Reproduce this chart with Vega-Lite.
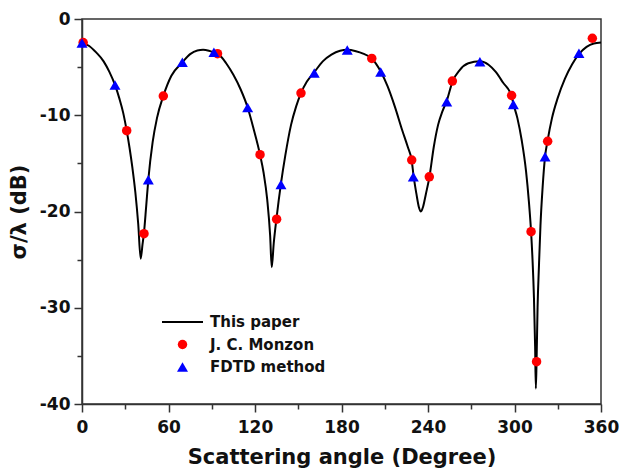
{
  "$schema": "https://vega.github.io/schema/vega-lite/v6.json",
  "width": 519,
  "height": 385,
  "autosize": "none",
  "padding": {"left": 82, "top": 19, "right": 21, "bottom": 68},
  "background": "white",
  "config": {
    "view": {"stroke": "#333", "strokeWidth": 1.5},
    "font": "DejaVu Sans",
    "axis": {
      "labelFont": "DejaVu Sans", "labelFontWeight": "bold", "labelFontSize": 17, "labelColor": "#111",
      "titleFont": "DejaVu Sans", "titleFontWeight": "bold", "titleColor": "#111",
      "domainColor": "#333", "domainWidth": 1.5, "tickColor": "#333", "tickWidth": 1.5, "grid": false
    }
  },
  "datasets": {
    "curve": [
      {"angle": 0, "db": -2.45}, {"angle": 5, "db": -2.8}, {"angle": 10, "db": -3.5}, {"angle": 15, "db": -4.4},
      {"angle": 19, "db": -5.5}, {"angle": 23, "db": -6.9}, {"angle": 26, "db": -8.3}, {"angle": 28.5, "db": -9.7},
      {"angle": 31, "db": -11.6}, {"angle": 33, "db": -13.4}, {"angle": 35, "db": -15.5}, {"angle": 37, "db": -18.0},
      {"angle": 39, "db": -21.3}, {"angle": 40.7, "db": -24.9}, {"angle": 42, "db": -23.4}, {"angle": 43, "db": -22.2},
      {"angle": 44.5, "db": -19.5}, {"angle": 46, "db": -16.7}, {"angle": 49, "db": -12.8}, {"angle": 52, "db": -10.3},
      {"angle": 56.4, "db": -8.0}, {"angle": 62, "db": -5.9}, {"angle": 69.6, "db": -4.5}, {"angle": 75, "db": -3.65},
      {"angle": 80, "db": -3.27}, {"angle": 84, "db": -3.2}, {"angle": 88, "db": -3.3}, {"angle": 91, "db": -3.45},
      {"angle": 94, "db": -3.65}, {"angle": 97, "db": -4.0}, {"angle": 100, "db": -4.6}, {"angle": 105, "db": -5.8},
      {"angle": 110, "db": -7.3}, {"angle": 114.9, "db": -9.2}, {"angle": 119, "db": -11.4}, {"angle": 123.5, "db": -14.1},
      {"angle": 126, "db": -16.0}, {"angle": 128.5, "db": -18.8}, {"angle": 130.5, "db": -22.5}, {"angle": 131.6, "db": -25.8},
      {"angle": 133, "db": -23.3}, {"angle": 135, "db": -20.6}, {"angle": 138, "db": -17.1}, {"angle": 141, "db": -14.2},
      {"angle": 145, "db": -11.0}, {"angle": 148.5, "db": -9.1}, {"angle": 151.9, "db": -7.7}, {"angle": 156, "db": -6.5},
      {"angle": 161, "db": -5.55}, {"angle": 167, "db": -4.4}, {"angle": 173, "db": -3.7}, {"angle": 179, "db": -3.3},
      {"angle": 184, "db": -3.2}, {"angle": 190, "db": -3.35}, {"angle": 195, "db": -3.6}, {"angle": 201, "db": -4.1},
      {"angle": 207.2, "db": -5.45}, {"angle": 212, "db": -7.0}, {"angle": 217, "db": -9.1}, {"angle": 222, "db": -11.5},
      {"angle": 226, "db": -13.3}, {"angle": 228.7, "db": -14.7}, {"angle": 230, "db": -16.3}, {"angle": 232, "db": -18.2},
      {"angle": 233.6, "db": -19.5}, {"angle": 235.1, "db": -20.0}, {"angle": 236.6, "db": -19.5}, {"angle": 238.5, "db": -18.2},
      {"angle": 241, "db": -16.4}, {"angle": 244, "db": -13.3}, {"angle": 247, "db": -11.0}, {"angle": 250, "db": -9.6},
      {"angle": 253, "db": -8.5}, {"angle": 257, "db": -6.5}, {"angle": 262, "db": -5.3}, {"angle": 268, "db": -4.6},
      {"angle": 276, "db": -4.4}, {"angle": 282, "db": -4.75}, {"angle": 287, "db": -5.5}, {"angle": 292, "db": -6.6},
      {"angle": 298, "db": -8.0}, {"angle": 299.2, "db": -8.8}, {"angle": 302, "db": -10.3}, {"angle": 305, "db": -12.6},
      {"angle": 308, "db": -15.8}, {"angle": 310, "db": -19.0}, {"angle": 311.5, "db": -22.1}, {"angle": 312.5, "db": -25.0},
      {"angle": 313.5, "db": -29.0}, {"angle": 314.3, "db": -34.0}, {"angle": 314.8, "db": -38.4}, {"angle": 315.3, "db": -35.6},
      {"angle": 316, "db": -30.0}, {"angle": 317, "db": -25.5}, {"angle": 318, "db": -21.5}, {"angle": 319.5, "db": -17.5},
      {"angle": 321.2, "db": -14.3}, {"angle": 323, "db": -12.6}, {"angle": 326, "db": -10.3}, {"angle": 330, "db": -8.2},
      {"angle": 335, "db": -6.2}, {"angle": 340, "db": -4.7}, {"angle": 345, "db": -3.6}, {"angle": 350, "db": -2.9},
      {"angle": 355, "db": -2.55}, {"angle": 360, "db": -2.45}
    ],
    "pts": [
      {"angle": 0.8, "db": -2.45, "series": "J. C. Monzon"},
      {"angle": 31, "db": -11.6, "series": "J. C. Monzon"},
      {"angle": 43, "db": -22.3, "series": "J. C. Monzon"},
      {"angle": 56.4, "db": -8.0, "series": "J. C. Monzon"},
      {"angle": 94, "db": -3.6, "series": "J. C. Monzon"},
      {"angle": 123.5, "db": -14.1, "series": "J. C. Monzon"},
      {"angle": 135, "db": -20.8, "series": "J. C. Monzon"},
      {"angle": 151.9, "db": -7.7, "series": "J. C. Monzon"},
      {"angle": 201, "db": -4.1, "series": "J. C. Monzon"},
      {"angle": 228.7, "db": -14.65, "series": "J. C. Monzon"},
      {"angle": 240.9, "db": -16.4, "series": "J. C. Monzon"},
      {"angle": 256.9, "db": -6.45, "series": "J. C. Monzon"},
      {"angle": 298, "db": -7.95, "series": "J. C. Monzon"},
      {"angle": 311.5, "db": -22.1, "series": "J. C. Monzon"},
      {"angle": 315.3, "db": -35.6, "series": "J. C. Monzon"},
      {"angle": 323, "db": -12.7, "series": "J. C. Monzon"},
      {"angle": 354, "db": -2.0, "series": "J. C. Monzon"},
      {"angle": 0, "db": -2.5, "series": "FDTD method"},
      {"angle": 22.9, "db": -6.86, "series": "FDTD method"},
      {"angle": 46, "db": -16.7, "series": "FDTD method"},
      {"angle": 69.6, "db": -4.5, "series": "FDTD method"},
      {"angle": 91.5, "db": -3.46, "series": "FDTD method"},
      {"angle": 114.9, "db": -9.2, "series": "FDTD method"},
      {"angle": 138, "db": -17.2, "series": "FDTD method"},
      {"angle": 161.1, "db": -5.6, "series": "FDTD method"},
      {"angle": 184, "db": -3.22, "series": "FDTD method"},
      {"angle": 207.2, "db": -5.5, "series": "FDTD method"},
      {"angle": 229.8, "db": -16.4, "series": "FDTD method"},
      {"angle": 253, "db": -8.6, "series": "FDTD method"},
      {"angle": 276, "db": -4.45, "series": "FDTD method"},
      {"angle": 299.2, "db": -8.87, "series": "FDTD method"},
      {"angle": 321.2, "db": -14.3, "series": "FDTD method"},
      {"angle": 344.7, "db": -3.57, "series": "FDTD method"}
    ]
  },
  "layer": [
    {
      "data": {"name": "curve"},
      "transform": [{"calculate": "'This paper'", "as": "series"}],
      "mark": {"type": "line", "interpolate": "monotone", "strokeWidth": 2},
      "encoding": {
        "x": {
          "field": "angle", "type": "quantitative",
          "scale": {"domain": [0, 360], "nice": false, "zero": false},
          "axis": {
            "title": "Scattering angle (Degree)", "titleFontSize": 21, "titlePadding": 11,
            "values": [0, 30, 60, 90, 120, 150, 180, 210, 240, 270, 300, 330, 360],
            "labelExpr": "datum.value % 60 === 0 ? datum.label : ''",
            "tickSize": {"condition": {"test": "datum.value % 60 === 0", "value": 8}, "value": 5},
            "labelPadding": 7, "labelFlush": false, "labelOverlap": false
          }
        },
        "y": {
          "field": "db", "type": "quantitative",
          "scale": {"domain": [-40, 0], "nice": false, "zero": false},
          "axis": {
            "title": "σ/λ (dB)", "titleFontSize": 21, "titlePadding": 10,
            "values": [-40, -35, -30, -25, -20, -15, -10, -5, 0],
            "labelExpr": "datum.value % 10 === 0 ? replace(datum.label, '−', '-') : ''",
            "tickSize": {"condition": {"test": "datum.value % 10 === 0", "value": 8}, "value": 5},
            "labelPadding": 4, "labelFlush": false, "labelOverlap": false
          }
        },
        "color": {
          "field": "series", "type": "nominal",
          "scale": {"domain": ["This paper", "J. C. Monzon", "FDTD method"], "range": ["#000000", "#ff0000", "#0000ff"]},
          "legend": {
            "title": null, "orient": "none", "legendX": 79.5, "legendY": 295, "columns": 1,
            "labelFont": "DejaVu Sans", "labelFontWeight": "bold", "labelFontSize": 15, "labelColor": "#111",
            "labelOffset": 6.5, "rowPadding": 6.5, "clipHeight": 16, "padding": 0,
            "encode": {
              "symbols": {
                "update": {
                  "shape": {"scale": "shape", "field": "value"},
                  "fill": {"scale": "color", "field": "value"},
                  "stroke": {"scale": "color", "field": "value"},
                  "strokeOpacity": {"signal": "datum.value === 'This paper' ? 1 : 0"},
                  "strokeWidth": {"signal": "datum.value === 'This paper' ? 2 : (datum.value === 'FDTD method' ? 40 : 41.5)"},
                  "size": {"signal": "datum.value === 'This paper' ? 1681 : (datum.value === 'FDTD method' ? 121 : 90)"},
                  "opacity": {"value": 1}
                }
              }
            }
          }
        }
      }
    },
    {
      "data": {"name": "pts"},
      "mark": {"type": "point", "filled": true, "opacity": 1, "strokeWidth": 0},
      "encoding": {
        "x": {"field": "angle", "type": "quantitative"},
        "y": {"field": "db", "type": "quantitative"},
        "color": {"field": "series", "type": "nominal"},
        "shape": {
          "field": "series", "type": "nominal",
          "scale": {"domain": ["This paper", "J. C. Monzon", "FDTD method"], "range": ["stroke", "circle", "triangle-up"]}
        },
        "size": {
          "field": "series", "type": "nominal",
          "scale": {"domain": ["J. C. Monzon", "FDTD method"], "range": [90, 121]},
          "legend": null
        }
      }
    }
  ]
}
